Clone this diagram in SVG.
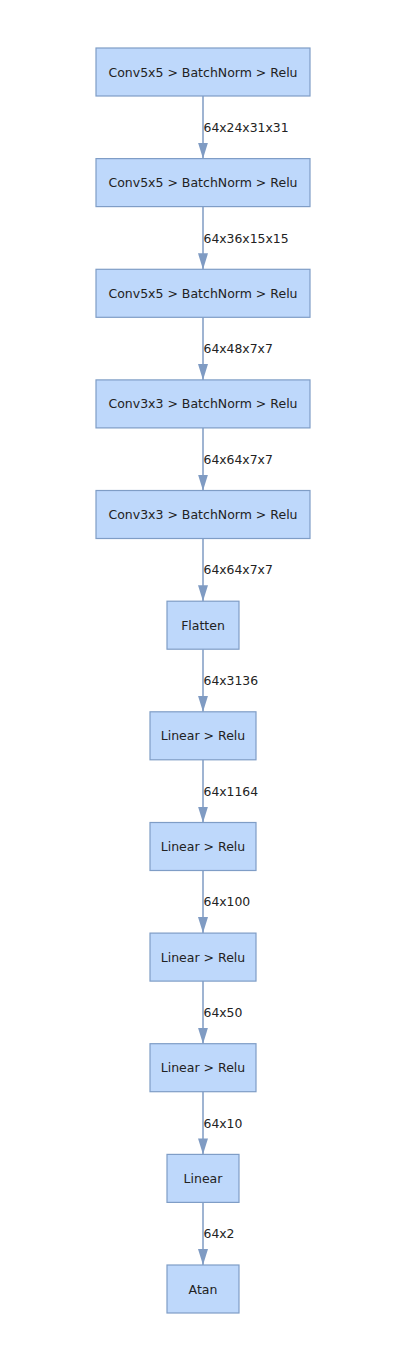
<svg xmlns="http://www.w3.org/2000/svg" width="407" height="1361" viewBox="0 0 407 1361">
<defs>
<style>
.n{fill:#bed8fb;stroke:#7f9dc6;stroke-width:1.2}
.t{font-family:"DejaVu Sans",sans-serif;font-size:12.5px;fill:#222;text-anchor:middle;dominant-baseline:central}
.l{font-family:"DejaVu Sans",sans-serif;font-size:12.4px;fill:#222;dominant-baseline:central}
.e{stroke:#7f9bc3;stroke-width:1.5;fill:none;marker-end:url(#a)}
</style>
<marker id="a" viewBox="0 0 16 10" refX="16" refY="5" markerUnits="userSpaceOnUse" markerWidth="16" markerHeight="10" orient="auto">
<path d="M0,0 L16,5 L0,10 z" fill="#7f9bc3"/>
</marker>
</defs>
<rect width="407" height="1361" fill="#fff"/>
<g id="edges">
<line class="e" x1="203" y1="96" x2="203" y2="158.6"/>
<line class="e" x1="203" y1="206.6" x2="203" y2="269.3"/>
<line class="e" x1="203" y1="317.3" x2="203" y2="379.9"/>
<line class="e" x1="203" y1="427.9" x2="203" y2="490.5"/>
<line class="e" x1="203" y1="538.5" x2="203" y2="601.2"/>
<line class="e" x1="203" y1="649.2" x2="203" y2="711.8"/>
<line class="e" x1="203" y1="759.8" x2="203" y2="822.5"/>
<line class="e" x1="203" y1="870.5" x2="203" y2="933.1"/>
<line class="e" x1="203" y1="981.1" x2="203" y2="1043.7"/>
<line class="e" x1="203" y1="1091.7" x2="203" y2="1154.4"/>
<line class="e" x1="203" y1="1202.4" x2="203" y2="1265"/>
<text class="l" x="203.5" y="127.3">64x24x31x31</text>
<text class="l" x="203.5" y="238">64x36x15x15</text>
<text class="l" x="203.5" y="348.6">64x48x7x7</text>
<text class="l" x="203.5" y="459.2">64x64x7x7</text>
<text class="l" x="203.5" y="569.9">64x64x7x7</text>
<text class="l" x="203.5" y="680.5">64x3136</text>
<text class="l" x="203.5" y="791.2">64x1164</text>
<text class="l" x="203.5" y="901.8">64x100</text>
<text class="l" x="203.5" y="1012.4">64x50</text>
<text class="l" x="203.5" y="1123.1">64x10</text>
<text class="l" x="203.5" y="1233.7">64x2</text>
</g>
<g id="n1"><rect class="n" x="96" y="48" width="214" height="48"/><text class="t" x="203" y="72">Conv5x5 &gt; BatchNorm &gt; Relu</text></g>
<g id="n2"><rect class="n" x="96" y="158.6" width="214" height="48"/><text class="t" x="203" y="182.6">Conv5x5 &gt; BatchNorm &gt; Relu</text></g>
<g id="n3"><rect class="n" x="96" y="269.3" width="214" height="48"/><text class="t" x="203" y="293.3">Conv5x5 &gt; BatchNorm &gt; Relu</text></g>
<g id="n4"><rect class="n" x="96" y="379.9" width="214" height="48"/><text class="t" x="203" y="403.9">Conv3x3 &gt; BatchNorm &gt; Relu</text></g>
<g id="n5"><rect class="n" x="96" y="490.5" width="214" height="48"/><text class="t" x="203" y="514.5">Conv3x3 &gt; BatchNorm &gt; Relu</text></g>
<g id="n6"><rect class="n" x="167" y="601.2" width="72" height="48"/><text class="t" x="203" y="625.2">Flatten</text></g>
<g id="n7"><rect class="n" x="150" y="711.8" width="106" height="48"/><text class="t" x="203" y="735.8">Linear &gt; Relu</text></g>
<g id="n8"><rect class="n" x="150" y="822.5" width="106" height="48"/><text class="t" x="203" y="846.5">Linear &gt; Relu</text></g>
<g id="n9"><rect class="n" x="150" y="933.1" width="106" height="48"/><text class="t" x="203" y="957.1">Linear &gt; Relu</text></g>
<g id="n10"><rect class="n" x="150" y="1043.7" width="106" height="48"/><text class="t" x="203" y="1067.7">Linear &gt; Relu</text></g>
<g id="n11"><rect class="n" x="167" y="1154.4" width="72" height="48"/><text class="t" x="203" y="1178.4">Linear</text></g>
<g id="n12"><rect class="n" x="167" y="1265" width="72" height="48"/><text class="t" x="203" y="1289">Atan</text></g>
</svg>
